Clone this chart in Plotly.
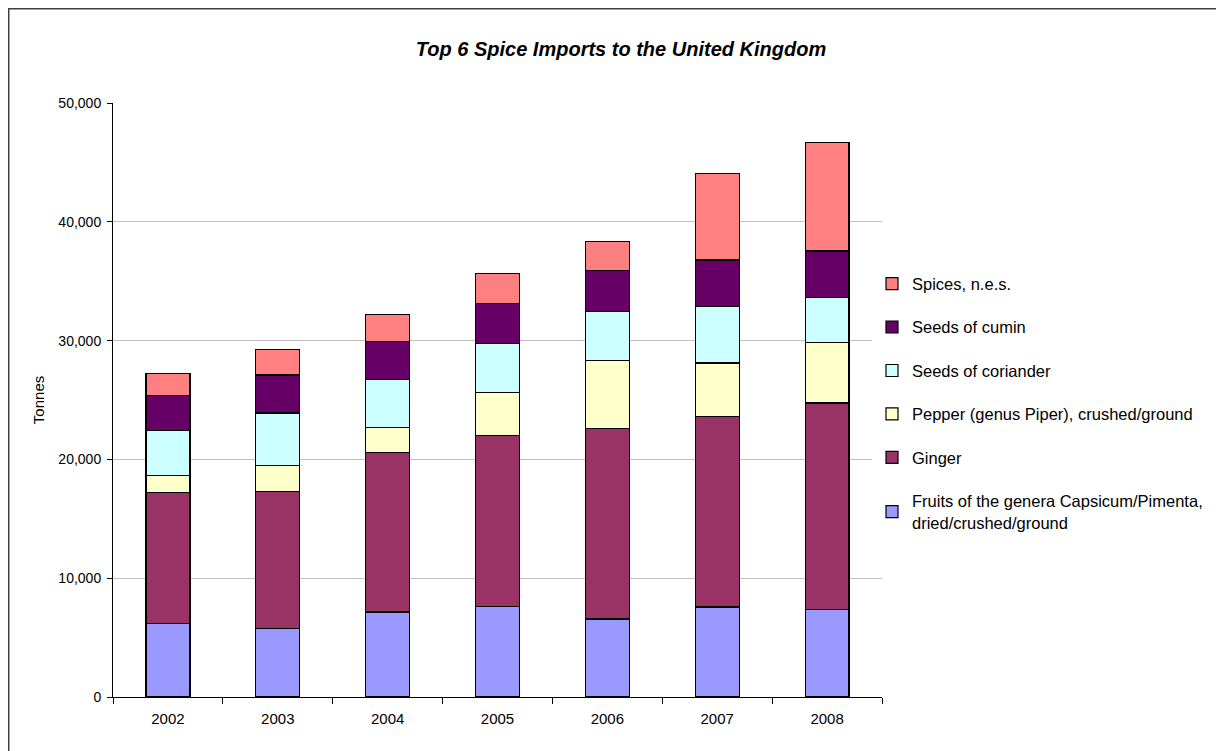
import plotly.graph_objects as go

#%% data (tonnes)
years = ['2002', '2003', '2004', '2005', '2006', '2007', '2008']

capsicum = [6180, 5790, 7160, 7640, 6570, 7570, 7350]
ginger = [11010, 11520, 13430, 14400, 16050, 16010, 17400]
pepper = [1430, 2160, 2110, 3580, 5700, 4540, 5090]
coriander = [3790, 4440, 4010, 4120, 4160, 4740, 3800]
cumin = [2950, 3200, 3240, 3350, 3450, 3930, 3900]
spices_nes = [1890, 2170, 2240, 2580, 2420, 7250, 9120]

series = [
    ('Fruits of the genera Capsicum/Pimenta,<br>dried/crushed/ground', capsicum, '#9999FF'),
    ('Ginger', ginger, '#993366'),
    ('Pepper (genus Piper), crushed/ground', pepper, '#FFFFCC'),
    ('Seeds of coriander', coriander, '#CCFFFF'),
    ('Seeds of cumin', cumin, '#660066'),
    ('Spices, n.e.s.', spices_nes, '#FF8080'),
]

#%%
fig = go.Figure()
for i, (name, vals, col) in enumerate(series):
    fig.add_trace(go.Bar(x=years, y=vals, name=name,
                         legendgroup='g%d' % i, legendrank=100 - i,
                         marker=dict(color=col, line=dict(color='#000000', width=1.2))))

# page body has an 8px margin, so everything is set 8px up/left
fig.update_layout(
    barmode='stack',
    bargap=0.6,
    width=1224, height=751,
    margin=dict(l=105, r=350, t=95, b=62),
    paper_bgcolor='white', plot_bgcolor='white',
    font=dict(family='Arial, Liberation Sans, sans-serif', size=14, color='#000000'),
    title=dict(text='<b><i>Top 6 Spice Imports to the United Kingdom</i></b>',
               x=613 / 1224, xanchor='center', y=1 - 41 / 751, yanchor='middle',
               font=dict(size=20)),
    legend=dict(x=0.987, xanchor='left', y=0.725, yanchor='top',
                traceorder='grouped', tracegroupgap=19,
                itemwidth=30, font=dict(size=16.5)),
    showlegend=True,
)

fig.update_xaxes(type='category', showline=True, linecolor='#000000', linewidth=1,
                 ticks='outside', tickson='boundaries', ticklen=6, tickcolor='#000000',
                 tickfont=dict(size=15), ticklabelstandoff=8, showgrid=False)
fig.update_yaxes(range=[0, 50000], dtick=10000, tickformat=',d',
                 showline=True, linecolor='#000000', linewidth=1,
                 ticks='outside', ticklen=5, tickcolor='#000000',
                 showgrid=True, gridcolor='#C0C0C0', gridwidth=1,
                 tickfont=dict(size=14), ticklabelstandoff=3, zeroline=False)

# axis title placed by hand
fig.add_annotation(text='Tonnes', xref='paper', yref='paper', x=-0.111, y=0.5,
                   textangle=-90, showarrow=False, font=dict(size=15))

# chart frame
fig.add_shape(type='rect', xref='paper', yref='paper',
              x0=(0.75 - 105) / 769, x1=(1240 - 105) / 769,
              y0=(689 - 770) / 594, y1=(689 - 0.75) / 594,
              line=dict(color='#404040', width=1.5))

fig.write_html('out.html')
